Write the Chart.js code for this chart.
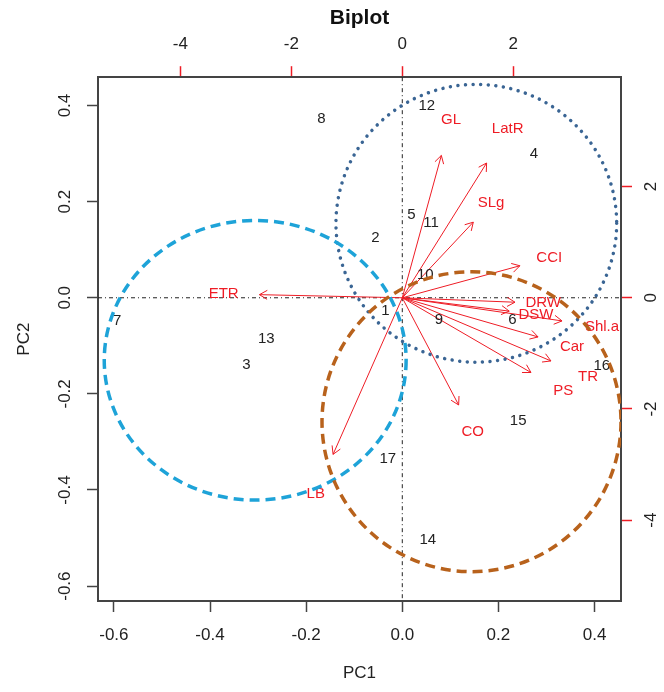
<!DOCTYPE html>
<html>
<head>
<meta charset="utf-8">
<title>Biplot</title>
<script src="https://cdn.jsdelivr.net/npm/chart.js@4.4.1/dist/chart.umd.min.js"></script>
<style>
  html, body { margin: 0; padding: 0; background: #fff; }
  #wrap { width: 664px; height: 692px; position: relative; }
</style>
</head>
<body>
<div id="wrap"><canvas id="biplot"></canvas></div>
<script>
// observation scores (bottom / left axes)
const obsLabels = ["1", "2", "3", "4", "5", "6", "7", "8", "9", "10", "11", "12", "13", "14", "15", "16", "17"];
const obsPC1 = [-0.035, -0.056, -0.324, 0.274, 0.019, 0.229, -0.593, -0.168, 0.076, 0.048, 0.060, 0.051, -0.283, 0.053, 0.241, 0.415, -0.030];
const obsPC2 = [-0.027, 0.124, -0.140, 0.300, 0.172, -0.046, -0.049, 0.373, -0.046, 0.047, 0.156, 0.399, -0.086, -0.504, -0.256, -0.142, -0.336];

// variable loadings (top / right axes)
const varNames = ["GL", "LatR", "SLg", "CCI", "DRW", "DSW", "Shl.a", "Car", "TR", "PS", "CO", "LB", "ETR"];
const varLoad1 = [0.88, 1.90, 1.60, 2.65, 2.54, 2.41, 3.60, 3.06, 3.35, 2.90, 1.27, -1.56, -3.22];
const varLoad2 = [3.20, 3.03, 1.70, 0.72, -0.10, -0.30, -0.52, -0.88, -1.42, -1.68, -2.41, -3.52, 0.07];

// group circles, in PC units
const groupCx = [0.154, -0.306, 0.144];
const groupCy = [0.155, -0.130, -0.258];
const groupRx = [0.292, 0.314, 0.311];
const groupRy = [0.289, 0.291, 0.312];

// tick labels
const pcTicks = [-0.6, -0.4, -0.2, 0.0, 0.2, 0.4];
const loadTicks = [-4, -2, 0, 2];

const RED = "#ee1c25";
const FONT = "'Liberation Sans', Arial, sans-serif";
const groupStyle = [
  { color: "#3a6594", width: 3.5, dash: [0.01, 7.6], cap: "round" },
  { color: "#1ea3d8", width: 3.5, dash: [10, 6], cap: "butt" },
  { color: "#b8621c", width: 3.5, dash: [10, 6], cap: "butt" },
];

Chart.defaults.font.family = FONT;

// R biplot draws arrows to 80% of the loading, the label at the loading
const arrowSets = varNames.map((name, i) => ({
  type: "line",
  label: name,
  data: [{ x: 0, y: 0 }, { x: varLoad1[i] * 0.8, y: varLoad2[i] * 0.8 }],
  xAxisID: "x2",
  yAxisID: "y2",
  borderColor: RED,
  borderWidth: 1,
  pointRadius: 0,
  fill: false,
}));

const biplotLayer = {
  id: "biplotLayer",
  beforeDatasetsDraw(chart) {
    const { ctx, chartArea: a, scales: { x, y } } = chart;
    const x0 = x.getPixelForValue(0), y0 = y.getPixelForValue(0);
    ctx.save();
    ctx.strokeStyle = "#222";
    ctx.lineWidth = 1;
    ctx.setLineDash([4, 3, 1, 3]);
    ctx.beginPath();
    ctx.moveTo(a.left, y0); ctx.lineTo(a.right, y0);
    ctx.moveTo(x0, a.top); ctx.lineTo(x0, a.bottom);
    ctx.stroke();
    ctx.restore();
  },
  afterDatasetsDraw(chart) {
    const { ctx, chartArea: a, scales: { x, y, x2, y2 } } = chart;
    ctx.save();
    ctx.beginPath();
    ctx.rect(a.left, a.top, a.right - a.left, a.bottom - a.top);
    ctx.clip();

    // arrow heads
    const ox = x2.getPixelForValue(0), oy = y2.getPixelForValue(0);
    ctx.strokeStyle = RED;
    ctx.lineWidth = 1;
    varNames.forEach((n, i) => {
      const tx = x2.getPixelForValue(varLoad1[i] * 0.8);
      const ty = y2.getPixelForValue(varLoad2[i] * 0.8);
      const ang = Math.atan2(ty - oy, tx - ox);
      const len = 9;
      ctx.beginPath();
      ctx.moveTo(tx - len * Math.cos(ang - Math.PI / 6), ty - len * Math.sin(ang - Math.PI / 6));
      ctx.lineTo(tx, ty);
      ctx.lineTo(tx - len * Math.cos(ang + Math.PI / 6), ty - len * Math.sin(ang + Math.PI / 6));
      ctx.stroke();
    });

    // labels
    ctx.font = "15px " + FONT;
    ctx.textAlign = "center";
    ctx.textBaseline = "middle";
    ctx.fillStyle = "#222";
    obsLabels.forEach((t, i) => {
      ctx.fillText(t, x.getPixelForValue(obsPC1[i]), y.getPixelForValue(obsPC2[i]));
    });
    ctx.fillStyle = RED;
    varNames.forEach((t, i) => {
      ctx.fillText(t, x2.getPixelForValue(varLoad1[i]), y2.getPixelForValue(varLoad2[i]));
    });

    // group circles
    groupCx.forEach((cx, i) => {
      const px = x.getPixelForValue(cx), py = y.getPixelForValue(groupCy[i]);
      const rx = Math.abs(x.getPixelForValue(cx + groupRx[i]) - px);
      const ry = Math.abs(y.getPixelForValue(groupCy[i] + groupRy[i]) - py);
      const s = groupStyle[i];
      ctx.strokeStyle = s.color;
      ctx.lineWidth = s.width;
      ctx.lineCap = s.cap;
      ctx.setLineDash(s.dash);
      ctx.beginPath();
      ctx.ellipse(px, py, rx, ry, 0, 0, Math.PI * 2);
      ctx.stroke();
    });
    ctx.restore();
  },
};

function axis(opts) {
  const o = {
    type: "linear",
    position: opts.position,
    min: opts.min,
    max: opts.max,
    afterBuildTicks: (s) => { s.ticks = opts.ticks.map((v) => ({ value: v })); },
    afterFit: opts.fit,
    ticks: {
      autoSkip: false,
      font: { size: 17 },
      color: "#222",
      padding: opts.pad,
      callback: opts.fmt,
    },
    grid: {
      drawOnChartArea: false,
      drawTicks: true,
      tickLength: 11,
      tickColor: opts.tickColor,
      tickWidth: 1.5,
    },
    border: { display: true, color: "#444", width: 2 },
    title: opts.title || { display: false },
  };
  if (opts.rotate) {
    o.ticks.minRotation = 90;
    o.ticks.maxRotation = 90;
    o.ticks.crossAlign = "center";
  }
  return o;
}

const fmtPC = (v) => Number(v).toFixed(1);
const fmtLoad = (v) => String(v);

new Chart(document.getElementById("biplot"), {
  type: "scatter",
  data: {
    datasets: [
      {
        label: "obs",
        data: obsPC1.map((v, i) => ({ x: v, y: obsPC2[i] })),
        xAxisID: "x",
        yAxisID: "y",
        pointRadius: 0,
      },
      ...arrowSets,
    ],
  },
  options: {
    responsive: true,
    maintainAspectRatio: false,
    animation: false,
    layout: { padding: 0 },
    plugins: {
      legend: { display: false },
      tooltip: { enabled: false },
      title: {
        display: true,
        text: "Biplot",
        fullSize: false,
        color: "#111",
        font: { size: 21, weight: "bold" },
        padding: { top: 6, bottom: 0 },
      },
    },
    scales: {
      x: axis({
        position: "bottom", min: -0.633, max: 0.455, ticks: pcTicks, fmt: fmtPC,
        pad: 13, tickColor: "#444", fit: (s) => { s.height = 91; },
        title: { display: true, text: "PC1", color: "#222", font: { size: 17 }, padding: { top: 0, bottom: 8 } },
      }),
      y: axis({
        position: "left", min: -0.631, max: 0.459, ticks: pcTicks, fmt: fmtPC,
        pad: 7, tickColor: "#444", rotate: true, fit: (s) => { s.width = 98; },
        title: { display: true, text: "PC2", color: "#222", font: { size: 17 }, padding: { top: 14, bottom: 0 } },
      }),
      x2: axis({
        position: "top", min: -5.486, max: 3.943, ticks: loadTicks, fmt: fmtLoad,
        pad: 12, tickColor: RED, fit: (s) => { s.height = 46; },
      }),
      y2: axis({
        position: "right", min: -5.453, max: 3.967, ticks: loadTicks, fmt: fmtLoad,
        pad: 12, tickColor: RED, rotate: true, fit: (s) => { s.width = 43; },
      }),
    },
  },
  plugins: [biplotLayer],
});
</script>
</body>
</html>
